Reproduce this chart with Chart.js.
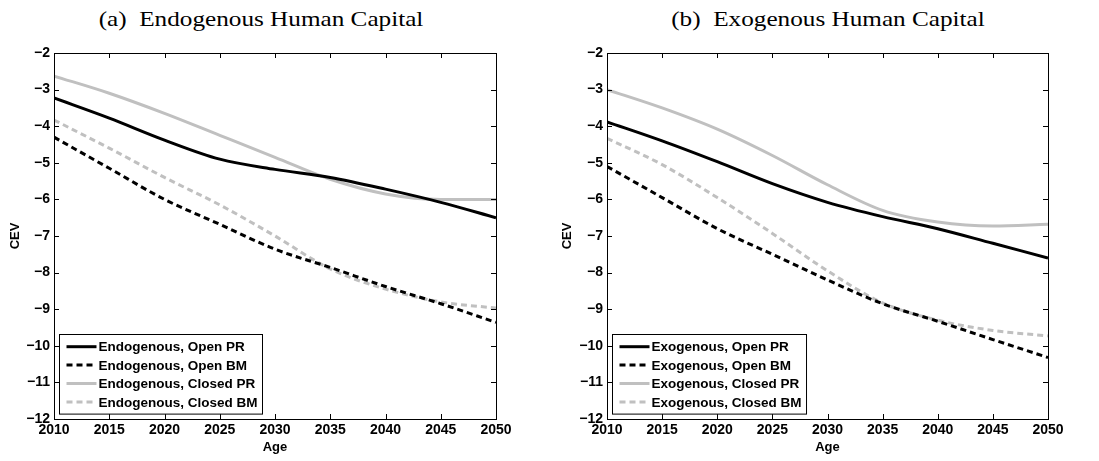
<!DOCTYPE html>
<html>
<head>
<meta charset="utf-8">
<script src="https://cdn.jsdelivr.net/npm/chart.js@4.4.1/dist/chart.umd.min.js"></script>
<style>
  body { margin: 0; background: #fff; width: 1099px; height: 461px; position: relative; overflow: hidden; }
  canvas { position: absolute; top: 0; }
  .title {
    position: absolute; top: 7px; transform: translateX(-50%) scaleX(1.2);
    font-family: "Liberation Serif", "Times New Roman", serif; font-size: 21px; line-height: 24px;
    color: #000; white-space: pre;
  }
</style>
</head>
<body>
<div class="title" style="left:261px">(a)  Endogenous Human Capital</div>
<div class="title" style="left:828px">(b)  Exogenous Human Capital</div>
<canvas id="endoChart" width="549" height="461" style="left:0"></canvas>
<canvas id="exoChart" width="550" height="461" style="left:549px"></canvas>
<script>
const years = [2010, 2015, 2020, 2025, 2030, 2035, 2040, 2045, 2050];

// (a) endogenous human capital
const endoOpenPR = [-3.23, -3.78, -4.38, -4.9, -5.18, -5.4, -5.72, -6.08, -6.5];
const endoOpenBM = [-4.3, -5.15, -6.0, -6.68, -7.36, -7.86, -8.38, -8.85, -9.36];
const endoClosedPR = [-2.63, -3.1, -3.65, -4.25, -4.85, -5.45, -5.85, -6.0, -6.0];
const endoClosedBM = [-3.83, -4.6, -5.4, -6.15, -7.0, -7.9, -8.45, -8.8, -8.97];

// (b) exogenous human capital
const exoOpenPR = [-3.88, -4.4, -4.97, -5.57, -6.08, -6.47, -6.8, -7.2, -7.6];
const exoOpenBM = [-5.1, -5.95, -6.8, -7.5, -8.2, -8.85, -9.33, -9.83, -10.32];
const exoClosedPR = [-3.0, -3.5, -4.08, -4.8, -5.6, -6.3, -6.62, -6.73, -6.68];
const exoClosedBM = [-4.33, -5.05, -5.95, -6.93, -7.95, -8.83, -9.3, -9.58, -9.73];

const gray = "#c0c0c0";
const tickFont = { family: "'Liberation Sans', Arial, sans-serif", size: 14, weight: "bold" };
const titleFont = { family: "'Liberation Sans', Arial, sans-serif", size: 13, weight: "bold" };

function points(values) {
  return values.map((v, i) => ({ x: years[i], y: v }));
}

function line(label, values, color, dashed) {
  return {
    label,
    data: points(values),
    borderColor: color,
    borderWidth: 3,
    borderDash: dashed ? [6, 4] : [],
    pointRadius: 0,
    cubicInterpolationMode: "monotone",
    fill: false
  };
}

function minus(v) {
  return v < 0 ? "\u2212" + Math.abs(v) : String(v);
}

// matlab style box, inward ticks and legend in the lower left corner
const matlabFrame = {
  id: "matlabFrame",
  afterDatasetsDraw(chart) {
    const { ctx, chartArea: ca, scales } = chart;
    const tl = 5;
    ctx.save();
    ctx.strokeStyle = "#000";
    ctx.lineWidth = 1;
    ctx.setLineDash([]);
    ctx.beginPath();
    scales.x.ticks.forEach((t) => {
      const px = Math.round(scales.x.getPixelForValue(t.value)) + 0.5;
      ctx.moveTo(px, ca.bottom); ctx.lineTo(px, ca.bottom - tl);
      ctx.moveTo(px, ca.top); ctx.lineTo(px, ca.top + tl);
    });
    scales.y.ticks.forEach((t) => {
      const py = Math.round(scales.y.getPixelForValue(t.value)) + 0.5;
      ctx.moveTo(ca.left, py); ctx.lineTo(ca.left + tl, py);
      ctx.moveTo(ca.right, py); ctx.lineTo(ca.right - tl, py);
    });
    ctx.stroke();
    ctx.strokeRect(Math.round(ca.left) + 0.5, Math.round(ca.top) + 0.5,
      Math.round(ca.right - ca.left), Math.round(ca.bottom - ca.top));

    // legend
    const sets = chart.data.datasets;
    ctx.font = "bold 13.5px 'Liberation Sans', Arial, sans-serif";
    const textW = Math.max(...sets.map((d) => ctx.measureText(d.label).width));
    const rowH = 18.4;
    const bw = 40 + textW + 4;
    const bh = rowH * sets.length + 6;
    const bx = Math.round(ca.left + 5) + 0.5;
    const by = Math.round(ca.bottom - 5 - bh) + 0.5;
    ctx.fillStyle = "#fff";
    ctx.fillRect(bx, by, bw, bh);
    ctx.strokeRect(bx, by, bw, bh);
    sets.forEach((d, i) => {
      const cy = by + 3 + rowH / 2 + i * rowH;
      ctx.beginPath();
      ctx.strokeStyle = d.borderColor;
      ctx.lineWidth = 3;
      ctx.setLineDash(d.borderDash);
      ctx.moveTo(bx + 7, cy); ctx.lineTo(bx + 37, cy);
      ctx.stroke();
      ctx.fillStyle = "#000";
      ctx.textBaseline = "middle";
      ctx.fillText(d.label, bx + 39, cy + 1);
    });
    ctx.restore();
  }
};

function makeChart(id, name, series, yWidth, rightPad, titlePad) {
  return new Chart(document.getElementById(id), {
    type: "line",
    data: {
      datasets: [
        line(name + ", Open PR", series[0], "#000", false),
        line(name + ", Open BM", series[1], "#000", true),
        line(name + ", Closed PR", series[2], gray, false),
        line(name + ", Closed BM", series[3], gray, true)
      ]
    },
    options: {
      responsive: false,
      animation: false,
      devicePixelRatio: 1,
      layout: { padding: { top: 53, right: rightPad, bottom: 0, left: 0 } },
      plugins: { legend: { display: false }, tooltip: { enabled: false } },
      scales: {
        x: {
          type: "linear",
          min: 2010,
          max: 2050,
          grid: { display: false, drawTicks: false },
          border: { display: false },
          ticks: { stepSize: 5, color: "#000", font: tickFont, padding: 3, maxRotation: 0,
            callback: (v) => String(v) },
          title: { display: true, text: "Age", color: "#000", font: titleFont, padding: { top: 0, bottom: 6 } },
          afterFit: (s) => { s.height = 42; }
        },
        y: {
          min: -12,
          max: -2,
          grid: { display: false, drawTicks: false },
          border: { display: false },
          ticks: { stepSize: 1, color: "#000", font: tickFont, padding: 4, callback: minus },
          title: { display: true, text: "CEV", color: "#000", font: titleFont, padding: { top: titlePad, bottom: 0 } },
          afterFit: (s) => { s.width = yWidth; }
        }
      }
    },
    plugins: [matlabFrame]
  });
}

makeChart("endoChart", "Endogenous", [endoOpenPR, endoOpenBM, endoClosedPR, endoClosedBM], 54, 53, 8);
makeChart("exoChart", "Exogenous", [exoOpenPR, exoOpenBM, exoClosedPR, exoClosedBM], 58, 51, 11);
</script>
</body>
</html>
